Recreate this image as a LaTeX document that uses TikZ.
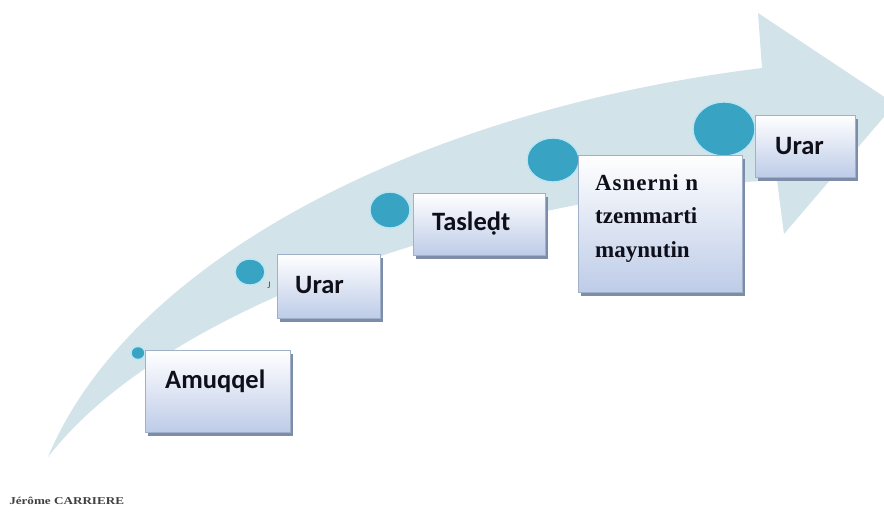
\documentclass[tikz,border=0pt]{standalone}
\usepackage{fontspec}
\setmainfont{Liberation Serif}
\newfontfamily\labfont{Carlito}
\usetikzlibrary{shadows,shapes.geometric}
\definecolor{bandc}{RGB}{211,227,234}
\definecolor{dotc}{RGB}{56,163,194}
\definecolor{dotedge}{RGB}{185,230,242}
\definecolor{boxedge}{RGB}{160,176,200}
\definecolor{boxbot}{RGB}{190,204,232}
\definecolor{shadowc}{RGB}{125,140,168}
\definecolor{inkc}{RGB}{15,15,25}
\tikzset{
  stepbox/.style={draw=boxedge, line width=0.7pt, top color=white, bottom color=boxbot,
    drop shadow={shadow xshift=3pt, shadow yshift=-3.5pt, fill=shadowc, opacity=1},
    inner sep=0pt},
  dot/.style={ellipse, fill=dotc, draw=dotedge, line width=1.4pt, inner sep=0pt},
  lab/.style={font=\labfont\bfseries\fontsize{26.5}{30}\selectfont, text=inkc, inner sep=0pt, anchor=base west},
  serlab/.style={font=\bfseries\fontsize{23}{33.5}\selectfont, text=inkc, inner sep=0pt, align=left, anchor=north west},
}
\begin{document}
\begin{tikzpicture}[x=1pt,y=-1pt]
\useasboundingbox (0,0) rectangle (884,512);
\begin{scope}
\clip (0,0) rectangle (884,512);
% curved arrow band
\fill[bandc] (48,457) .. controls (130,260) and (420,110) .. (762,68)
  -- (758,13) -- (895,104) -- (784,234) -- (777,180)
  .. controls (500,195) and (170,300) .. (48,457) -- cycle;
\end{scope}
% dots
\node[dot, minimum width=14pt, minimum height=13pt] (c1) at (138,353) {};
\node[dot, minimum width=30pt, minimum height=26pt] (c2) at (250,272) {};
\node[dot, minimum width=40pt, minimum height=36pt] (c3) at (390,210) {};
\node[dot, minimum width=52pt, minimum height=44pt] (c4) at (553,160) {};
\node[dot, minimum width=62pt, minimum height=54pt] (c5) at (724,129) {};
% stray glyph
\node[font=\labfont\fontsize{10}{10}\selectfont, text=black!70, inner sep=0pt] (j) at (269,285) {J};
% boxes
\node[stepbox, minimum width=145pt, minimum height=82pt] (b1) at (217.5,391) {};
\node[stepbox, minimum width=103pt, minimum height=64pt] (b2) at (328.5,286) {};
\node[stepbox, minimum width=132pt, minimum height=62pt] (b3) at (479,224) {};
\node[stepbox, minimum width=164pt, minimum height=137pt] (b4) at (660,223.5) {};
\node[stepbox, minimum width=100pt, minimum height=62pt] (b5) at (805,146) {};
% labels
\node[lab] (t1) at (165,388) {Amuqqel};
\node[lab] (t2) at (295,293) {Urar};
\node[lab] (t3) at (432,230) {Tasleḍt};
\node[serlab] (t4) at (595,174) {{\addfontfeatures{LetterSpace=4}Asnerni n}\\tzemmarti\\maynutin};
\node[lab] (t5) at (775,154) {Urar};
% credit
\node[font=\bfseries\fontsize{10.5}{11}\selectfont, text=black!75, inner sep=0pt, anchor=base west, xscale=1.25] (cr) at (9,504) {Jérôme CARRIERE};
\end{tikzpicture}
\end{document}
